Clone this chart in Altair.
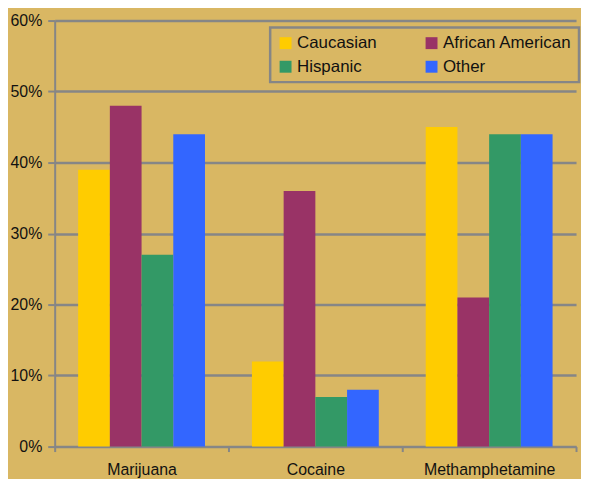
import altair as alt
import pandas as pd

drugs = ["Marijuana", "Cocaine", "Methamphetamine"]
groups = ["Caucasian", "African American", "Hispanic", "Other"]
caucasian = [0.39, 0.12, 0.45]
african_american = [0.48, 0.36, 0.21]
hispanic = [0.27, 0.07, 0.44]
other = [0.44, 0.08, 0.44]
colors = ["#FFCC00", "#993366", "#339966", "#3366FF"]

# legend is laid out column by column, so list entries in that order
legend_order = ["Caucasian", "Hispanic", "African American", "Other"]
legend_colors = [colors[groups.index(g)] for g in legend_order]

rows = []
for series, vals in zip(groups, [caucasian, african_american, hispanic, other]):
    for d, v in zip(drugs, vals):
        rows.append({"drug": d, "group": series, "value": v})
df = pd.DataFrame(rows)

bg = "#D9B763"
grey = "#868686"
font = "Liberation Sans"

chart = alt.Chart(df).mark_bar().encode(
    x=alt.X("drug:N", sort=drugs, title=None,
            scale=alt.Scale(paddingInner=0, paddingOuter=0),
            axis=alt.Axis(labelAngle=0, tickBand="extent", domainColor=grey, domainWidth=2,
                          tickColor=grey, tickWidth=2, tickSize=5, labelFontSize=16,
                          labelFont=font, labelColor="#111111", labelPadding=10)),
    xOffset=alt.XOffset("group:N", sort=groups,
                        scale=alt.Scale(paddingInner=0, paddingOuter=0.74)),
    y=alt.Y("value:Q", title=None,
            scale=alt.Scale(domain=[0, 0.6]),
            axis=alt.Axis(format=".0%", values=[0, 0.1, 0.2, 0.3, 0.4, 0.5, 0.6],
                          grid=True, gridColor=grey, gridWidth=2.5,
                          domainColor=grey, domainWidth=2, tickColor=grey, tickWidth=2,
                          tickSize=7, labelFontSize=16, labelFont=font,
                          labelColor="#111111", labelPadding=6)),
    color=alt.Color("group:N", title=None,
                    scale=alt.Scale(domain=legend_order, range=legend_colors),
                    legend=alt.Legend(orient="none", legendX=217, legendY=7, columns=2,
                                      symbolType="square", symbolSize=144, symbolStrokeWidth=0,
                                      labelFontSize=17, labelFont=font,
                                      labelColor="#111111", columnPadding=46, rowPadding=6,
                                      labelOffset=3, labelLimit=300,
                                      strokeColor=grey, padding=7, fillColor=bg)),
).properties(
    width=525, height=429, background=bg,
    padding={"left": 1, "top": 3, "right": 0, "bottom": 0},
).configure_view(stroke=None).configure_legend(strokeWidth=2.5)

chart.save("out.html", embed_options={"renderer": "svg", "actions": False})
